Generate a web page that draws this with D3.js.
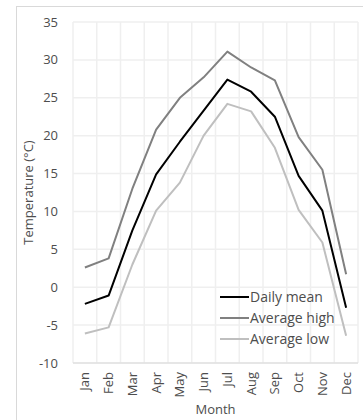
<!DOCTYPE html>
<html>
<head>
<meta charset="utf-8">
<script src="https://cdn.jsdelivr.net/npm/d3@7"></script>
<style>
  body { margin: 0; background: #fff; }
  text { font-family: "Open Sans", "Noto Sans", sans-serif; }
</style>
</head>
<body>
<div id="chart"></div>
<script>
// monthly temperatures
const months = ["Jan", "Feb", "Mar", "Apr", "May", "Jun", "Jul", "Aug", "Sep", "Oct", "Nov", "Dec"];
const dailyMean = [-2.2, -1.1, 7.5, 14.9, 19.2, 23.3, 27.4, 25.8, 22.5, 14.7, 10.1, -2.7];
const averageHigh = [2.6, 3.8, 13.0, 20.8, 25.0, 27.7, 31.1, 29.0, 27.3, 19.8, 15.5, 1.7];
const averageLow = [-6.1, -5.3, 3.0, 10.1, 13.8, 20.0, 24.2, 23.2, 18.4, 10.2, 5.9, -6.4];
const yTicks = [-10, -5, 0, 5, 10, 15, 20, 25, 30, 35];

const seriesList = [
  { name: "Daily mean", values: dailyMean, color: "#000000" },
  { name: "Average high", values: averageHigh, color: "#808080" },
  { name: "Average low", values: averageLow, color: "#bfbfbf" }
];

const width = 363, height = 420;
const plot = { left: 73, right: 358, top: 22, bottom: 363 };
const labelColor = "#4d4d4d";

const svg = d3.select("#chart").append("svg")
  .attr("width", width)
  .attr("height", height);

// chart frame (runs off the picture on right and bottom)
svg.append("rect")
  .attr("x", 16.5).attr("y", 6.5)
  .attr("width", 400).attr("height", 450)
  .attr("fill", "#fff")
  .attr("stroke", "#d9d9d9");

const x = d3.scaleBand().domain(months).range([plot.left, plot.right]);
const y = d3.scaleLinear().domain([-10, 35]).range([plot.bottom, plot.top]);

// grid
const grid = svg.append("g").attr("stroke", "#efefef").attr("stroke-width", 1.5);
yTicks.forEach(t => {
  grid.append("line")
    .attr("x1", plot.left).attr("x2", plot.right)
    .attr("y1", y(t)).attr("y2", y(t));
});
months.concat(["end"]).forEach((m, i) => {
  const xx = plot.left + i * x.bandwidth();
  grid.append("line")
    .attr("x1", xx).attr("x2", xx)
    .attr("y1", plot.top).attr("y2", plot.bottom);
});
svg.append("line")
  .attr("x1", plot.left).attr("x2", plot.right)
  .attr("y1", y(-10)).attr("y2", y(-10))
  .attr("stroke", "#d9d9d9");

// y axis labels
svg.append("g").selectAll("text")
  .data(yTicks).enter().append("text")
  .attr("x", 58)
  .attr("y", d => y(d))
  .attr("dy", "0.35em")
  .attr("text-anchor", "end")
  .attr("fill", labelColor)
  .style("font-size", "13px")
  .text(d => d);

// x axis labels
svg.append("g").selectAll("text")
  .data(months).enter().append("text")
  .attr("transform", d => "translate(" + (x(d) + x.bandwidth() / 2 + 4.5) + "," + 372 + ") rotate(-90)")
  .attr("text-anchor", "end")
  .attr("fill", labelColor)
  .style("font-size", "13px")
  .text(d => d);

// axis titles
svg.append("text")
  .attr("x", (plot.left + plot.right) / 2)
  .attr("y", 414)
  .attr("text-anchor", "middle")
  .attr("fill", labelColor)
  .style("font-size", "13px")
  .text("Month");

svg.append("text")
  .attr("transform", "translate(33," + (plot.top + plot.bottom) / 2 + ") rotate(-90)")
  .attr("text-anchor", "middle")
  .attr("fill", labelColor)
  .style("font-size", "13px")
  .text("Temperature (°C)");

// lines
const line = d3.line()
  .x((d, i) => x(months[i]) + x.bandwidth() / 2)
  .y(d => y(d));

svg.append("g").selectAll("path")
  .data(seriesList.slice().reverse()).enter().append("path")
  .attr("d", s => line(s.values))
  .attr("fill", "none")
  .attr("stroke", s => s.color)
  .attr("stroke-width", 2)
  .attr("stroke-linejoin", "round");

// legend
const legend = svg.append("g").selectAll("g")
  .data(seriesList).enter().append("g")
  .attr("transform", (s, i) => "translate(220," + (297 + i * 21) + ")");

legend.append("line")
  .attr("x1", 0).attr("x2", 29)
  .attr("stroke", s => s.color)
  .attr("stroke-width", 2);

legend.append("text")
  .attr("x", 30)
  .attr("dy", "0.35em")
  .attr("fill", labelColor)
  .style("font-size", "14px")
  .text(s => s.name);
</script>
</body>
</html>
